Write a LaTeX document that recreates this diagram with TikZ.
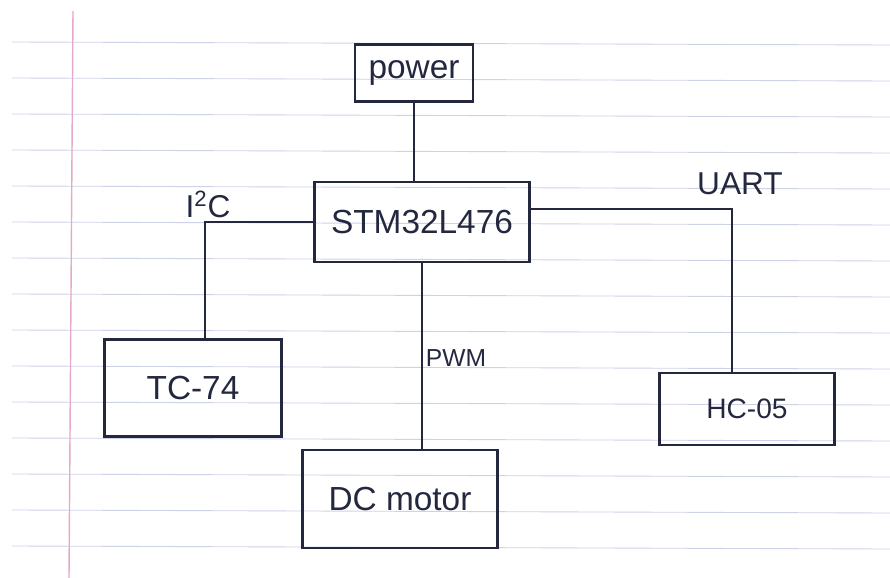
\documentclass[tikz,border=0pt]{standalone}
\usepackage{fontspec}
\setmainfont{Liberation Sans}
\definecolor{cInk}{RGB}{35,40,62}
\definecolor{cRule}{RGB}{205,210,230}
\definecolor{cMargin}{RGB}{228,168,200}
\tikzset{
	block/.style  ={rectangle, draw=cInk, line width=1.2pt, text=cInk, align=center, font=\fontsize{19}{22}\selectfont},
	wire/.style   ={draw=cInk, line width=1.2pt},
	sigtext/.style={text=cInk, font=\fontsize{18}{21}\selectfont},
	rule/.style   ={draw=cRule, line width=0.5pt},
}

\begin{document}
\begin{tikzpicture}[x=0.02cm, y=-0.02cm]
	\useasboundingbox (0,0) rectangle (890,578);
	% ---------- paper ----------
	\foreach \k in {0,...,14}
		\draw[rule] (12,{42+36*\k}) -- (890,{45+36*\k});
	\draw[draw=cMargin, line width=0.8pt] (73,11) -- (69,578);
	% ---------- blocks ----------
	\node[block, minimum width=2.36cm, minimum height=1.14cm] (power) at (414,73) {power};
	\node[block, minimum width=4.3cm, minimum height=1.6cm] (mcu) at (422,222) {STM32L476};
	\node[block, minimum width=3.54cm, minimum height=1.94cm] (tc) at (193,388) {TC-74};
	\node[block, minimum width=3.9cm, minimum height=1.96cm] (dc) at (400,499) {DC motor};
	\node[block, minimum width=3.5cm, minimum height=1.44cm, font=\fontsize{16}{19}\selectfont] (hc) at (747,409) {HC-05};
	% ---------- connectors ----------
	\coordinate (i2cdrop) at (205,340);
	\coordinate (uartbend) at (732,209);
	\coordinate (uartdrop) at (732,373);
	\draw[wire] (power.south) -- (power.south |- mcu.north);
	\draw[wire] (mcu.west) -| (i2cdrop);
	\draw[wire] (mcu.south) -- (mcu.south |- dc.north);
	\draw[wire] (mcu.east |- uartbend) -- (uartbend) -- (uartdrop);
	% ---------- bus labels ----------
	\node[sigtext] (i2clbl) at (208,204) {I\textsuperscript{2}C};
	\node[sigtext] (uartlbl) at (740,184) {UART};
	\node[sigtext, font=\fontsize{14}{17}\selectfont] (pwmlbl) at (456,358) {PWM};
\end{tikzpicture}
\end{document}
